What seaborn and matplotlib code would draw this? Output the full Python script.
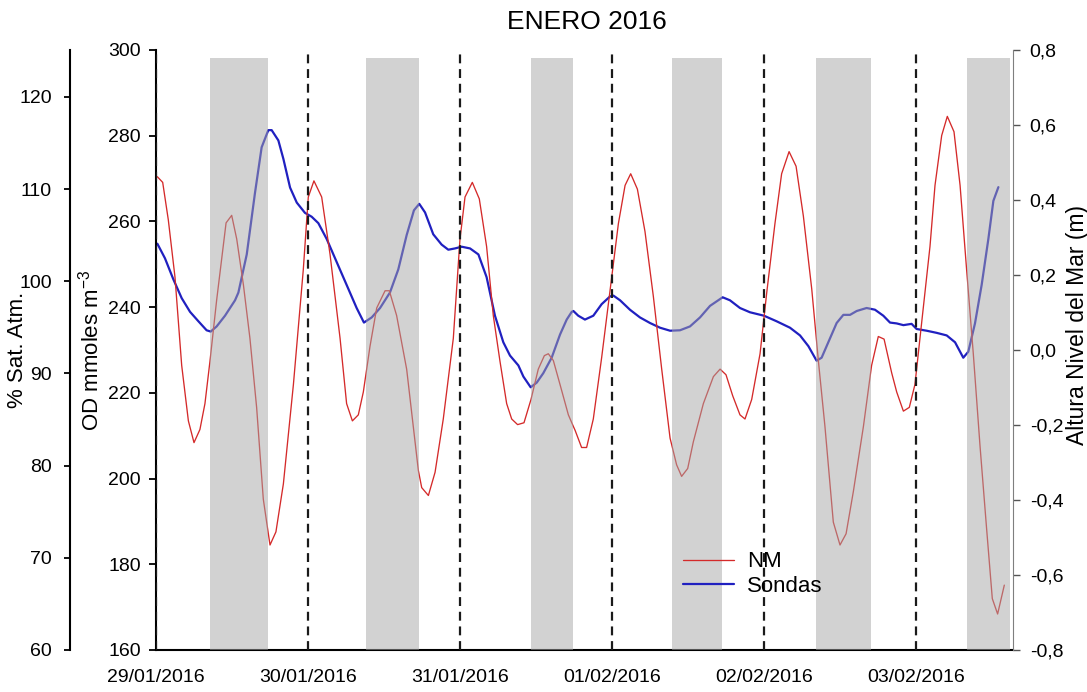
import matplotlib
matplotlib.use("Agg")
import matplotlib.pyplot as plt
from matplotlib.lines import Line2D
import seaborn as sns

# ---------------- data ----------------
day_labels = ["29/01/2016", "30/01/2016", "31/01/2016", "01/02/2016", "02/02/2016", "03/02/2016"]

# NM: sea level (m), time in days since 29/01/2016 00:00
nm_day = [0.009, 0.044, 0.081, 0.125, 0.169, 0.213, 0.250, 0.289, 0.322, 0.355,
          0.399, 0.461, 0.498, 0.531, 0.575, 0.618, 0.662, 0.706, 0.750, 0.789,
          0.838, 0.904, 0.969, 1.002, 1.039, 1.090, 1.145, 1.211, 1.254, 1.292,
          1.331, 1.364, 1.408, 1.452, 1.507, 1.535, 1.583, 1.649, 1.726, 1.748,
          1.792, 1.836, 1.890, 1.956, 2.000, 2.033, 2.081, 2.127, 2.175, 2.219,
          2.263, 2.307, 2.340, 2.379, 2.421, 2.467, 2.515, 2.555, 2.581, 2.614,
          2.658, 2.713, 2.746, 2.757, 2.800, 2.833, 2.877, 2.932, 2.998, 3.042,
          3.086, 3.123, 3.167, 3.217, 3.272, 3.327, 3.382, 3.425, 3.458, 3.498,
          3.535, 3.601, 3.667, 3.711, 3.750, 3.794, 3.842, 3.875, 3.919, 3.974,
          4.018, 4.072, 4.116, 4.165, 4.211, 4.259, 4.314, 4.358, 4.401, 4.456,
          4.500, 4.540, 4.588, 4.654, 4.708, 4.752, 4.790, 4.840, 4.873, 4.917,
          4.956, 4.993, 5.037, 5.092, 5.125, 5.169, 5.206, 5.250, 5.290, 5.333,
          5.377, 5.421, 5.465, 5.502, 5.537, 5.581]
nm_level = [0.462, 0.447, 0.347, 0.194, -0.041, -0.189, -0.247, -0.212, -0.143, -0.030,
            0.133, 0.339, 0.359, 0.296, 0.174, 0.031, -0.153, -0.398, -0.520, -0.485,
            -0.357, -0.092, 0.214, 0.408, 0.451, 0.408, 0.255, 0.031, -0.143, -0.189,
            -0.173, -0.112, 0.010, 0.112, 0.158, 0.158, 0.092, -0.051, -0.321, -0.367,
            -0.388, -0.326, -0.184, 0.031, 0.296, 0.408, 0.447, 0.403, 0.276, 0.092,
            -0.030, -0.143, -0.184, -0.199, -0.194, -0.132, -0.051, -0.015, -0.010, -0.028,
            -0.092, -0.173, -0.204, -0.214, -0.260, -0.260, -0.184, -0.020, 0.194, 0.337,
            0.439, 0.470, 0.429, 0.316, 0.143, -0.051, -0.235, -0.306, -0.337, -0.316,
            -0.245, -0.143, -0.071, -0.051, -0.066, -0.122, -0.173, -0.184, -0.132, -0.010,
            0.153, 0.337, 0.470, 0.529, 0.490, 0.357, 0.163, -0.030, -0.204, -0.459,
            -0.520, -0.490, -0.377, -0.204, -0.041, 0.036, 0.029, -0.061, -0.112, -0.163,
            -0.153, -0.092, 0.072, 0.276, 0.439, 0.572, 0.623, 0.582, 0.439, 0.214,
            -0.010, -0.255, -0.479, -0.663, -0.704, -0.627]

# Sondas: dissolved oxygen (mmoles m-3)
od_day = [0.009, 0.059, 0.114, 0.169, 0.224, 0.279, 0.333, 0.360, 0.399, 0.454,
          0.520, 0.542, 0.597, 0.651, 0.695, 0.739, 0.761, 0.805, 0.838, 0.882,
          0.926, 0.980, 1.024, 1.068, 1.123, 1.189, 1.265, 1.320, 1.368, 1.419,
          1.474, 1.539, 1.594, 1.649, 1.697, 1.732, 1.770, 1.824, 1.879, 1.923,
          1.967, 2.011, 2.066, 2.121, 2.175, 2.230, 2.285, 2.329, 2.384, 2.417,
          2.465, 2.505, 2.548, 2.603, 2.658, 2.702, 2.735, 2.746, 2.778, 2.822,
          2.877, 2.932, 2.987, 3.009, 3.053, 3.118, 3.184, 3.250, 3.316, 3.382,
          3.447, 3.513, 3.579, 3.645, 3.728, 3.776, 3.842, 3.908, 4.000, 4.083,
          4.171, 4.237, 4.292, 4.346, 4.379, 4.434, 4.478, 4.522, 4.566, 4.610,
          4.675, 4.730, 4.785, 4.829, 4.873, 4.917, 4.971, 5.004, 5.070, 5.136,
          5.202, 5.257, 5.311, 5.344, 5.388, 5.432, 5.476, 5.509, 5.542]
od_val = [254.8, 251.4, 246.5, 242.1, 238.9, 236.7, 234.6, 234.3, 235.5, 238.0,
          241.6, 243.4, 252.3, 266.6, 277.3, 281.3, 281.3, 278.9, 274.6, 267.9,
          264.4, 262.0, 261.1, 259.6, 255.9, 250.5, 244.3, 239.8, 236.4, 237.6,
          239.8, 243.4, 248.8, 256.8, 262.6, 264.1, 262.1, 257.0, 254.6, 253.4,
          253.7, 254.1, 253.7, 252.3, 247.0, 238.0, 231.8, 228.7, 226.4, 223.8,
          221.3, 222.4, 224.6, 228.2, 233.6, 237.1, 238.9, 239.1, 238.0, 237.1,
          238.0, 240.7, 242.5, 242.7, 241.6, 239.4, 237.6, 236.3, 235.2, 234.5,
          234.6, 235.5, 237.6, 240.3, 242.3, 241.6, 239.8, 238.8, 238.0, 236.7,
          235.2, 233.4, 230.9, 227.5, 228.2, 232.7, 236.3, 238.2, 238.2, 239.1,
          239.8, 239.4, 238.0, 236.4, 236.2, 235.8, 236.1, 234.9, 234.5, 234.0,
          233.4, 231.8, 228.2, 229.6, 236.2, 245.2, 255.9, 264.8, 268.0]

# shaded periods (days)
shade_start = [0.355, 1.382, 2.467, 3.395, 4.342, 5.336]
shade_end = [0.737, 1.730, 2.743, 3.724, 4.704, 5.618]

od_ticks = [160, 180, 200, 220, 240, 260, 280, 300]
sat_ticks = [60, 70, 80, 90, 100, 110, 120]
nm_ticks = [-0.8, -0.6, -0.4, -0.2, 0.0, 0.2, 0.4, 0.6, 0.8]
nm_ticklabels = ["-0,8", "-0,6", "-0,4", "-0,2", "0,0", "0,2", "0,4", "0,6", "0,8"]

# ---------------- style ----------------
sns.set_style("white")
plt.rcParams["font.family"] = ["Liberation Sans", "DejaVu Sans"]
plt.rcParams["mathtext.default"] = "regular"
plt.rcParams["text.color"] = "black"
plt.rcParams["axes.labelcolor"] = "black"

RED = "#d42a2a"
BLUE = "#2020c0"

W, H = 1087, 692
fig = plt.figure(figsize=(W / 100, H / 100), dpi=100)
L, R, T, B = 156, 1013, 50, 650
ax = fig.add_axes([L / W, (H - B) / H, (R - L) / W, (B - T) / H])
ax.set_facecolor("white")
ax2 = ax.twinx()
ax3 = ax.twinx()

# blue on OD axis
sns.lineplot(x=od_day, y=od_val, ax=ax, color=BLUE, lw=1.6, legend=False, zorder=2)
ax.set_xlim(0, (R - L) / 152.0)
ax.set_ylim(160, 300)
ax.set_yticks(od_ticks)
ax.set_xticks(range(len(day_labels)))
ax.set_xticklabels(day_labels)
ax.set_xlabel("")
ax.set_ylabel("OD mmoles m$^{-3}$", fontsize=16)
ax.yaxis.set_label_coords((103 - L) / (R - L), 0.5)
for s in ["top", "right"]:
    ax.spines[s].set_visible(False)
for s in ["left", "bottom"]:
    ax.spines[s].set_color("black")
    ax.spines[s].set_linewidth(1.5)
ax.tick_params(axis="y", direction="out", length=5, width=1.3, pad=6, labelsize=14, colors="black")
ax.tick_params(axis="x", direction="inout", length=14, width=1.3, pad=7, labelsize=14, colors="black")

# red on right axis
sns.lineplot(x=nm_day, y=nm_level, ax=ax2, color=RED, lw=0.95, legend=False, zorder=2)
ax2.set_ylim(-0.8, 0.8)
ax2.set_yticks(nm_ticks)
ax2.set_yticklabels(nm_ticklabels)
ax2.set_ylabel("Altura Nivel del Mar (m)", fontsize=16.5)
ax2.yaxis.set_label_coords((1066 - L) / (R - L), (B - 325) / (B - T))
for s in ["top", "left", "bottom"]:
    ax2.spines[s].set_visible(False)
ax2.spines["right"].set_color("#7f7f7f")
ax2.spines["right"].set_linewidth(0.8)
ax2.tick_params(axis="y", direction="out", length=5, width=1.0, pad=7, labelsize=14,
                labelcolor="black", color="#555555")

# shaded bands over the curves
for s0, s1 in zip(shade_start, shade_end):
    ax2.axvspan(s0, s1, ymin=0, ymax=0.986, color="#a6a6a6", alpha=0.5, lw=0, zorder=3)
# dashed day separators
for d in range(len(day_labels)):
    ax2.axvline(d, color="#1a1a1a", ls=(0, (4, 2.6)), lw=1.6, zorder=4)

# %Sat axis (outer left)
ax3.set_ylim(60, 60 + (B - T) / 92.2 * 10)
ax3.set_yticks(sat_ticks)
ax3.yaxis.set_ticks_position("left")
ax3.yaxis.set_label_position("left")
ax3.spines["left"].set_position(("axes", (70 - L) / (R - L)))
ax3.spines["left"].set_visible(True)
ax3.spines["left"].set_color("black")
ax3.spines["left"].set_linewidth(1.5)
for s in ["top", "right", "bottom"]:
    ax3.spines[s].set_visible(False)
ax3.set_ylabel("% Sat. Atm.", fontsize=16)
ax3.yaxis.set_label_coords((28 - L) / (R - L), 0.5)
ax3.tick_params(axis="y", direction="out", length=4, width=1.3, pad=9, labelsize=14, colors="black")

# legend
handles = [Line2D([], [], color=RED, lw=0.95), Line2D([], [], color=BLUE, lw=1.6)]
ax3.legend(handles, ["NM", "Sondas"], loc="center left",
           bbox_to_anchor=(683 / W, 1 - 574 / H), bbox_transform=fig.transFigure,
           frameon=False, fontsize=16, handlelength=2.3, handletextpad=0.6,
           labelspacing=0.15, borderpad=0, borderaxespad=0)

fig.text(587 / W, 1 - 22 / H, "ENERO 2016", ha="center", va="center", fontsize=19)

fig.savefig("out.png", dpi=100, facecolor="white")
